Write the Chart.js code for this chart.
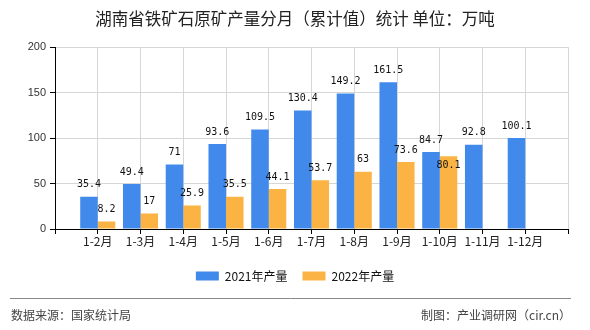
<!DOCTYPE html>
<html>
<head>
<meta charset="utf-8">
<script src="https://cdn.jsdelivr.net/npm/chart.js@4/dist/chart.umd.min.js"></script>
<style>
  html, body { margin: 0; padding: 0; background: #fff; }
  #wrap { width: 590px; height: 330px; position: relative; }
</style>
</head>
<body>
<div id="wrap"><canvas id="chart" width="590" height="330"></canvas></div>
<script>
// Data (cumulative iron ore output, 10k tonnes)
const categories = ["", "1-2月", "1-3月", "1-4月", "1-5月", "1-6月", "1-7月", "1-8月", "1-9月", "1-10月", "1-11月", "1-12月", ""];
const output2021 = [null, 35.4, 49.4, 71, 93.6, 109.5, 130.4, 149.2, 161.5, 84.7, 92.8, 100.1, null];
const output2022 = [null, 8.2, 17, 25.9, 35.5, 44.1, 53.7, 63, 73.6, 80.1, null, null, null];
const seriesNames = ["2021年产量", "2022年产量"];
const yTicks = [0, 50, 100, 150, 200];

const CJK = "'Noto Sans CJK SC', 'Noto Sans', sans-serif";

// value labels above bars, pushed into the bar if they hit an earlier label
const valueLabels = {
  id: "valueLabels",
  afterDatasetsDraw(chart) {
    const ctx = chart.ctx;
    const boxes = [];
    ctx.save();
    ctx.font = "10px 'DejaVu Sans Mono', monospace";
    ctx.fillStyle = "#111";
    ctx.textAlign = "center";
    ctx.textBaseline = "middle";
    chart.data.datasets.forEach((ds, i) => {
      const meta = chart.getDatasetMeta(i);
      meta.data.forEach((bar, j) => {
        const v = ds.data[j];
        if (v === null || v === undefined) return;
        const text = String(v);
        const w = ctx.measureText(text).width;
        let y = bar.y - 12;
        const hit = boxes.some(b => Math.abs(b.x - bar.x) < (b.w + w) / 2 && Math.abs(b.y - y) < 12);
        if (hit) y = bar.y + 9;
        boxes.push({ x: bar.x, y: y, w: w });
        ctx.fillText(text, bar.x, y);
      });
    });
    ctx.restore();
  }
};

// source line + footer texts
const footer = {
  id: "footer",
  afterDraw(chart) {
    const ctx = chart.ctx;
    ctx.save();
    ctx.strokeStyle = "#888";
    ctx.lineWidth = 1;
    ctx.beginPath();
    ctx.moveTo(10, 298.5);
    ctx.lineTo(571, 298.5);
    ctx.stroke();
    ctx.font = "12px " + CJK;
    ctx.fillStyle = "#444";
    ctx.textBaseline = "middle";
    ctx.textAlign = "left";
    ctx.fillText("数据来源：国家统计局", 11, 315);
    ctx.textAlign = "right";
    ctx.fillText("制图：产业调研网（cir.cn）", 571, 315);
    ctx.restore();
  }
};

new Chart(document.getElementById("chart"), {
  type: "bar",
  data: {
    labels: categories,
    datasets: [
      { label: seriesNames[0], data: output2021, backgroundColor: "#418AEB" },
      { label: seriesNames[1], data: output2022, backgroundColor: "#FBB343" }
    ]
  },
  options: {
    responsive: false,
    animation: false,
    events: [],
    categoryPercentage: 0.82,
    barPercentage: 1,
    layout: { padding: { left: 0, right: 0, top: 0, bottom: 38 } },
    plugins: {
      title: {
        display: true,
        text: "湖南省铁矿石原矿产量分月（累计值）统计 单位：万吨",
        color: "#222",
        font: { family: CJK, size: 16.5, weight: "normal", lineHeight: 1.2 },
        padding: { top: 9, bottom: 18.4 }
      },
      legend: {
        position: "bottom",
        labels: {
          boxWidth: 23,
          boxHeight: 9,
          padding: 15,
          color: "#111",
          font: { family: CJK, size: 12 }
        }
      },
      tooltip: { enabled: false }
    },
    scales: {
      x: {
        offset: false,
        grid: { offset: false, color: "#d6d6d6", tickColor: "#000", tickLength: 5, drawOnChartArea: true },
        border: { color: "#000" },
        ticks: { color: "#222", font: { family: CJK, size: 12 }, maxRotation: 0, autoSkip: false, padding: 0 },
        afterFit(scale) { scale.height = 26; }
      },
      y: {
        min: 0,
        max: 200,
        afterBuildTicks(scale) { scale.ticks = yTicks.map(v => ({ value: v })); },
        grid: { color: "#d6d6d6", tickColor: "#000", tickLength: 5 },
        border: { color: "#000" },
        ticks: { color: "#333", font: { family: "'Liberation Sans', sans-serif", size: 11 }, padding: 4 },
        afterFit(scale) { scale.width = 55; }
      },
      // empty right-hand axis that only keeps the right margin
      yRight: {
        position: "right",
        min: 0,
        max: 200,
        grid: { display: false },
        border: { display: false },
        ticks: { display: false },
        afterFit(scale) { scale.width = 22; }
      }
    }
  },
  plugins: [valueLabels, footer]
});
</script>
</body>
</html>
